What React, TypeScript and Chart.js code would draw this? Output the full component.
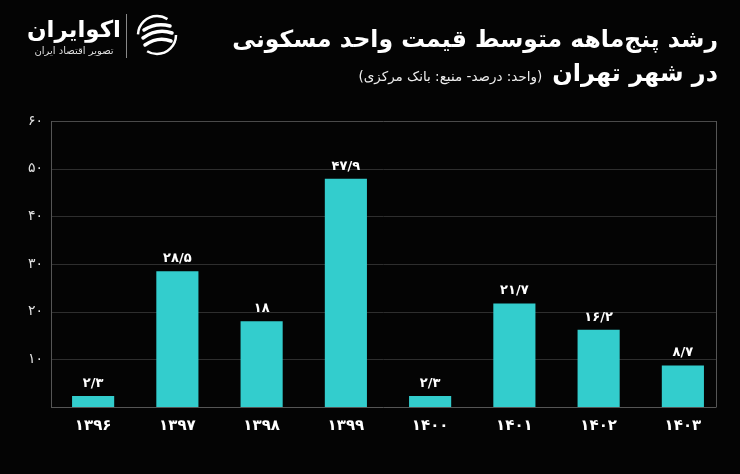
import React, { useEffect, useRef } from "react";
import { Chart, registerables } from "chart.js";

Chart.register(...registerables);

const categories = ["1396", "1397", "1398", "1399", "1400", "1401", "1402", "1403"];
const values = [2.3, 28.5, 18, 47.9, 2.3, 21.7, 16.2, 8.7];
const yTicks = [10, 20, 30, 40, 50, 60];

const titleLine1 = "رشد پنج‌ماهه متوسط قیمت واحد مسکونی";
const titleLine2 = "در شهر تهران";
const subtitle = "(واحد: درصد- منبع: بانک مرکزی)";
const logoName = "اکوایران";
const logoTag = "تصویر اقتصاد ایران";

const FONT = "'DejaVu Sans', 'Noto Sans', sans-serif";

function toFa(v: number | string): string {
  const s = String(v).replace(".", "/");
  return s.replace(/[0-9]/g, (d) => "۰۱۲۳۴۵۶۷۸۹"[Number(d)]);
}

const frameLineX = 716;

const overlayPlugin = {
  id: "overlay",
  beforeDatasetsDraw(chart: any) {
    const { ctx, chartArea, scales } = chart;
    const y = scales.y;
    ctx.save();
    ctx.lineWidth = 1;
    yTicks.forEach((t) => {
      const py = Math.round(y.getPixelForValue(t)) + 0.5;
      ctx.strokeStyle = t === 60 ? "#4a4a4a" : "#2e2e2e";
      ctx.beginPath();
      ctx.moveTo(chartArea.left, py);
      ctx.lineTo(frameLineX, py);
      ctx.stroke();
    });
    ctx.strokeStyle = "#555";
    const by = Math.round(y.getPixelForValue(0)) + 0.5;
    ctx.beginPath();
    ctx.moveTo(chartArea.left, by);
    ctx.lineTo(frameLineX, by);
    ctx.stroke();
    ctx.beginPath();
    ctx.moveTo(chartArea.left + 0.5, y.getPixelForValue(60));
    ctx.lineTo(chartArea.left + 0.5, by);
    ctx.stroke();
    ctx.beginPath();
    ctx.moveTo(frameLineX + 0.5, y.getPixelForValue(60));
    ctx.lineTo(frameLineX + 0.5, by);
    ctx.stroke();
    ctx.restore();
  },
  afterDatasetsDraw(chart: any) {
    const { ctx } = chart;
    const meta = chart.getDatasetMeta(0);
    ctx.save();
    ctx.fillStyle = "#ffffff";
    ctx.font = `bold 13px ${FONT}`;
    ctx.textAlign = "center";
    ctx.textBaseline = "bottom";
    meta.data.forEach((bar: any, i: number) => {
      ctx.fillText(toFa(values[i]), bar.x, bar.y - 6);
    });
    ctx.restore();
  },
};

function ChartView() {
  const ref = useRef<HTMLCanvasElement | null>(null);
  useEffect(() => {
    if (!ref.current) return;
    const chart = new Chart(ref.current, {
      type: "bar",
      data: {
        labels: categories,
        datasets: [
          {
            data: values,
            backgroundColor: "#33cdcd",
            borderWidth: 0,
            barPercentage: 0.5,
            categoryPercentage: 1,
          },
        ],
      },
      options: {
        animation: false,
        responsive: false,
        maintainAspectRatio: false,
        layout: { padding: { top: 121, left: 0, right: 15, bottom: 0 } },
        plugins: { legend: { display: false }, tooltip: { enabled: false } },
        scales: {
          x: {
            grid: { display: false, drawTicks: false },
            border: { display: false },
            ticks: {
              color: "#ffffff",
              font: { family: FONT, size: 15, weight: "bold" },
              padding: 10,
              callback: (_v: any, i: number) => toFa(categories[i]),
            },
            afterFit: (s: any) => {
              s.height = 67;
            },
          },
          y: {
            min: 0,
            max: 60,
            grid: { display: false, drawTicks: false },
            border: { display: false },
            ticks: {
              stepSize: 10,
              color: "#e0e0e0",
              font: { family: FONT, size: 14 },
              padding: 8,
              callback: (v: any) => (v === 0 ? "" : toFa(v)),
            },
            afterFit: (s: any) => {
              s.width = 51;
            },
          },
        },
      },
      plugins: [overlayPlugin],
    } as any);
    return () => chart.destroy();
  }, []);
  return (
    <canvas
      ref={ref}
      width={740}
      height={474}
      style={{ position: "absolute", left: 0, top: 0, width: 740, height: 474 }}
    />
  );
}

function Logo() {
  return (
    <div style={{ position: "absolute", left: 0, top: 0, width: 200, height: 70 }}>
      <div
        style={{
          position: "absolute",
          left: 26,
          top: 14,
          width: 96,
          textAlign: "center",
          direction: "rtl",
          fontFamily: FONT,
          color: "#fff",
        }}
      >
        <div style={{ fontSize: 23, fontWeight: "bold", lineHeight: "30px" }}>{logoName}</div>
        <div style={{ fontSize: 10, lineHeight: "14px", color: "#ddd" }}>{logoTag}</div>
      </div>
      <div style={{ position: "absolute", left: 126, top: 14, width: 1, height: 44, background: "#888" }} />
      <svg style={{ position: "absolute", left: 136, top: 14 }} width={42} height={42} viewBox="0 0 42 42">
        <circle cx="21" cy="21" r="19" fill="none" stroke="#fff" strokeWidth="2.5" strokeDasharray="40 20" />
        <path d="M8 16 Q20 8 34 12" stroke="#fff" strokeWidth="3.5" fill="none" strokeLinecap="round" />
        <path d="M7 24 Q21 14 36 19" stroke="#fff" strokeWidth="3.5" fill="none" strokeLinecap="round" />
        <path d="M9 31 Q22 22 35 27" stroke="#fff" strokeWidth="3.5" fill="none" strokeLinecap="round" />
      </svg>
    </div>
  );
}

export default function App() {
  return (
    <div
      style={{
        position: "fixed",
        left: 0,
        top: 0,
        width: 740,
        height: 474,
        background: "#040404",
        overflow: "hidden",
      }}
    >
      <ChartView />
      <Logo />
      <div
        style={{
          position: "absolute",
          right: 22,
          top: 22,
          direction: "rtl",
          fontFamily: FONT,
          color: "#fff",
          textAlign: "right",
          whiteSpace: "nowrap",
        }}
      >
        <div style={{ fontSize: 23.5, fontWeight: "bold", lineHeight: "34px" }}>{titleLine1}</div>
        <div style={{ lineHeight: "34px" }}>
          <span style={{ fontSize: 24, fontWeight: "bold" }}>{titleLine2}</span>
          <span style={{ fontSize: 13.5, marginRight: 10, color: "#eee" }}>{subtitle}</span>
        </div>
      </div>
    </div>
  );
}
